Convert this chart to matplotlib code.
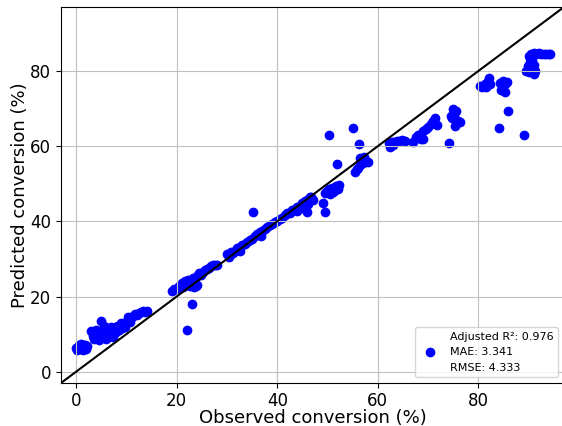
import matplotlib
matplotlib.use("Agg")
import matplotlib.pyplot as plt
from matplotlib.lines import Line2D

# Observed vs. predicted conversion (%) for each sample
observed = [
    0.0, 0.3, 0.6, 0.9, 1.2, 1.5, 1.8, 2.1, 0.5, 1.3, 2.0, 0.2, 1.0, 1.7,
    3.0, 3.3, 3.6, 3.9, 4.2, 4.5, 4.7, 5.0, 5.0, 5.3, 5.6, 5.9, 6.2, 6.5,
    6.8, 7.1, 7.4, 7.7, 8.0, 8.3, 8.6, 8.9, 9.2, 9.5, 9.8, 10.1, 10.4, 10.7,
    11.0, 11.4, 11.8, 12.2, 12.6, 13.0, 13.4, 13.8, 14.1, 4.0, 6.0, 7.0, 5.5,
    8.0, 9.0,
    19.0, 19.5, 20.0, 20.5, 21.0, 21.3, 21.6, 22.0, 22.3, 22.6, 22.9, 23.2,
    23.5, 23.8, 23.2, 24.1, 24.4, 24.8, 25.2, 25.6, 26.0, 26.4, 26.8, 27.2,
    27.6, 28.0, 23.5, 24.0, 22.0, 23.1,
    30.0, 30.4, 30.8, 31.2, 31.6, 32.0, 32.5, 33.0, 33.5, 34.0, 34.5, 35.0,
    35.5, 36.0, 36.5, 37.0, 37.5, 38.0, 38.5, 39.0, 39.5, 40.0, 40.5, 41.0,
    41.5, 42.0, 42.5, 43.0, 43.5, 44.0, 44.5, 45.0, 45.5, 46.0, 46.5, 47.0,
    44.0, 45.0, 46.2, 35.2, 32.5, 36.8, 46.8, 47.2, 45.9,
    49.0, 49.4, 51.8, 50.2, 55.0, 56.2,
    55.5, 56.0, 56.5, 57.0, 57.5, 58.0, 56.5, 57.2, 55.8,
    49.8, 50.3, 50.8, 51.2, 51.6, 52.0, 50.5, 51.0, 49.5, 52.2,
    62.2, 62.8, 63.3, 63.8, 64.3, 64.8, 65.3, 62.5, 63.0,
    67.0, 67.5, 68.0, 68.5, 69.0, 69.5, 70.0, 70.5, 71.0, 71.3, 69.0, 71.8,
    68.5, 74.2,
    75.0, 75.5, 75.2, 74.8, 75.9, 75.3, 76.3, 74.6,
    80.3, 80.8, 81.3, 81.8, 82.0, 81.5, 82.2,
    84.3, 84.8, 85.3, 85.7, 84.7, 85.2, 84.4, 85.9, 84.1, 89.0,
    89.5, 90.0, 90.5, 91.0, 91.3, 89.8, 90.3, 90.6, 91.0,
    90.0, 90.5, 91.0, 91.5, 92.0, 92.5, 93.0, 93.5, 94.0, 94.3, 90.3,
]
predicted = [
    6.2, 6.6, 6.0, 6.8, 6.3, 7.0, 6.5, 6.9, 7.2, 5.7, 6.0, 5.8, 7.4, 7.2,
    10.8, 9.5, 8.6, 11.2, 9.8, 8.4, 10.5, 13.4, 9.2, 11.0, 9.8, 8.8, 10.9, 9.6,
    11.6, 10.2, 9.3, 11.8, 10.6, 12.1, 11.0, 12.4, 11.5, 12.8, 12.0, 13.6, 14.6, 13.2,
    14.3, 14.9, 15.3, 15.0, 15.7, 15.9, 16.1, 16.0, 16.2, 10.0, 11.5, 12.0, 12.2,
    11.8, 13.0,
    21.6, 22.0, 21.9, 22.8, 23.5, 22.5, 24.0, 23.2, 24.4, 22.9, 23.8, 25.0,
    24.2, 22.8, 23.0, 25.5, 26.2, 25.8, 26.6, 27.0, 27.3, 27.6, 28.0, 28.3,
    28.5, 28.4, 22.5, 23.0, 11.2, 18.1,
    31.2, 30.6, 31.8, 31.5, 32.2, 32.8, 33.3, 33.6, 34.0, 34.5, 35.0, 35.4,
    36.0, 36.6, 37.2, 37.5, 38.0, 38.4, 38.9, 39.3, 39.8, 40.1, 40.6, 41.0,
    41.6, 42.1, 42.3, 43.0, 43.4, 43.8, 44.2, 44.9, 45.3, 45.8, 46.4, 46.0,
    42.8, 43.5, 44.5, 42.5, 32.0, 36.0, 46.5, 45.8, 42.5,
    45.0, 42.6, 55.2, 62.9, 64.8, 60.7,
    53.0, 54.2, 55.0, 55.6, 56.2, 55.8, 56.8, 57.2, 53.8,
    48.0, 48.6, 49.0, 48.2, 49.3, 48.5, 47.2, 47.8, 47.5, 49.6,
    60.8, 61.2, 61.0, 61.5, 61.3, 61.6, 61.4, 59.8, 60.3,
    61.0, 62.3, 63.0, 62.5, 64.0, 64.6, 65.0, 66.0, 66.8, 67.5, 62.0, 65.6,
    61.8, 60.8,
    70.0, 69.3, 68.2, 67.6, 66.6, 65.4, 66.3, 68.0,
    76.0, 75.8, 76.4, 77.2, 78.2, 75.6, 76.6,
    76.8, 77.2, 76.5, 77.0, 75.0, 74.3, 74.9, 69.4, 64.8, 62.9,
    80.0, 79.6, 80.4, 79.2, 80.1, 81.3, 82.3, 83.0, 81.5,
    84.0, 84.6, 84.8, 84.6, 84.7, 84.5, 84.6, 84.5, 84.4, 84.5, 83.5,
]

# Model scores shown in the legend
adj_r2 = 0.976
mae = 3.341
rmse = 4.333

axis_limits = [-3, 97]
ticks = [0, 20, 40, 60, 80]

fig = plt.figure(figsize=(5.62, 4.26), dpi=100)
ax = fig.add_axes([0.1085, 0.1009, 0.895, 0.8826])

ax.scatter(observed, predicted, color="blue", s=36)
ax.plot(axis_limits, axis_limits, color="black", linewidth=1.5)

ax.set_xlim(axis_limits)
ax.set_ylim(axis_limits)
ax.set_xticks(ticks)
ax.set_yticks(ticks)
ax.tick_params(labelsize=12)
ax.tick_params(axis="x", pad=3)
ax.grid(True, color="#c0c0c0")

ax.set_xlabel("Observed conversion (%)", fontsize=13, labelpad=-1)
ax.set_ylabel("Predicted conversion (%)", fontsize=13, labelpad=1)

blank = Line2D([], [], linestyle="none", marker="none")
dot = Line2D([], [], linestyle="none", marker="o", color="blue", markersize=6)
ax.legend(
    [blank, dot, blank],
    [f"Adjusted R\u00b2: {adj_r2:.3f}", f"MAE: {mae:.3f}", f"RMSE: {rmse:.3f}"],
    loc="lower right",
    fontsize=8,
)

fig.savefig("out.png", dpi=100)
